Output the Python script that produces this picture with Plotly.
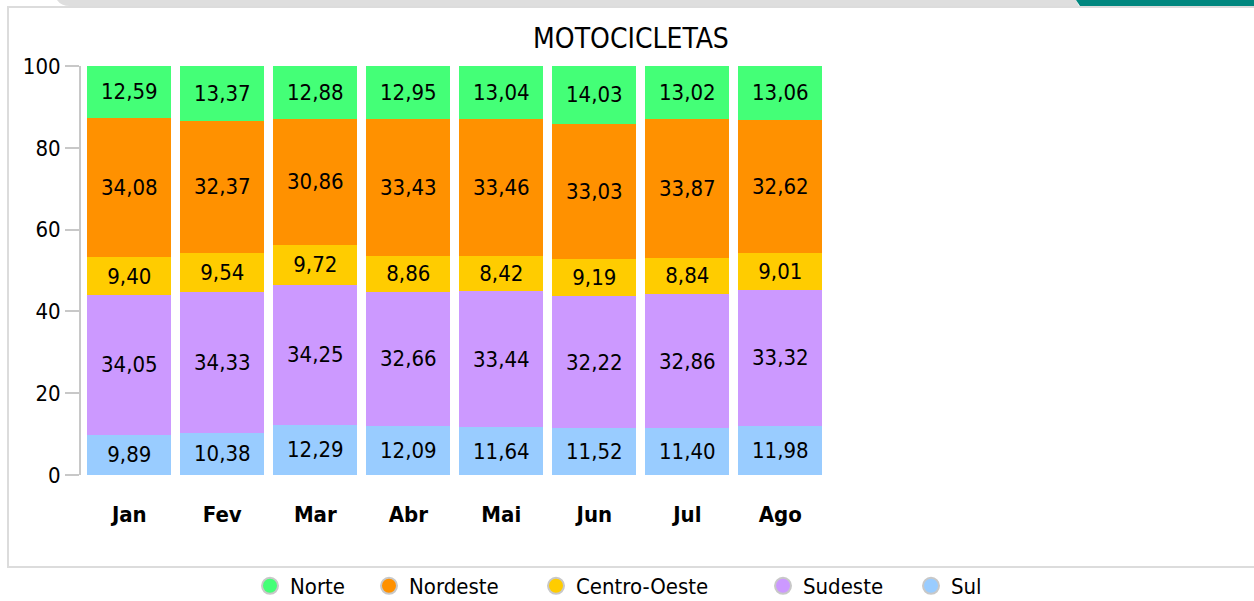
import plotly.graph_objects as go

# Monthly regional share (%) of motorcycle registrations
months = ["Jan", "Fev", "Mar", "Abr", "Mai", "Jun", "Jul", "Ago"]
norte = [12.59, 13.37, 12.88, 12.95, 13.04, 14.03, 13.02, 13.06]
nordeste = [34.08, 32.37, 30.86, 33.43, 33.46, 33.03, 33.87, 32.62]
centro_oeste = [9.40, 9.54, 9.72, 8.86, 8.42, 9.19, 8.84, 9.01]
sudeste = [34.05, 34.33, 34.25, 32.66, 33.44, 32.22, 32.86, 33.32]
sul = [9.89, 10.38, 12.29, 12.09, 11.64, 11.52, 11.40, 11.98]
y_ticks = [0, 20, 40, 60, 80, 100]

FONT = "DejaVu Sans Condensed, Liberation Sans, sans-serif"
W, H = 1254, 601
ML, MR, MT, MB = 80, 430, 62, 126
PW, PH = W - ML - MR, H - MT - MB


def px(x):
    return (x - ML) / PW


def py(y):
    return (H - MB - y) / PH


# bottom-to-top stacking order; legend order is top-to-bottom
series = [
    ("Sul", sul, "#99CCFF"),
    ("Sudeste", sudeste, "#CC99FF"),
    ("Centro-Oeste", centro_oeste, "#FFCC00"),
    ("Nordeste", nordeste, "#FF9100"),
    ("Norte", norte, "#44FF77"),
]

fig = go.Figure()
for name, vals, color in series:
    fig.add_trace(go.Bar(
        x=months, y=vals, name=name, marker=dict(color=color, line=dict(width=0)),
        text=vals, texttemplate="%{y:.2f}", textposition="inside",
        insidetextanchor="middle", textangle=0, constraintext="none",
        textfont=dict(family=FONT, size=22, color="black"),
        showlegend=False,
    ))

# circular legend swatches, each in its own legend box
legend_centres = {"Norte": 270, "Nordeste": 389, "Centro-Oeste": 556, "Sudeste": 783, "Sul": 931}
legend_order = ["Norte", "Nordeste", "Centro-Oeste", "Sudeste", "Sul"]
colors = {n: c for n, _, c in series}
legend_layout = {}
for i, name in enumerate(legend_order):
    key = "legend" if i == 0 else f"legend{i + 1}"
    fig.add_trace(go.Scatter(
        x=[None], y=[None], mode="markers", name=name, legend=key,
        marker=dict(symbol="circle", size=16, color=colors[name],
                    line=dict(color="#C8C8C8", width=2)),
        showlegend=True, hoverinfo="skip",
    ))
    legend_layout[key] = dict(
        xref="container", yref="container",
        x=(legend_centres[name] - 20) / W, xanchor="left",
        y=1 - 586 / H, yanchor="middle", orientation="h",
        bgcolor="rgba(0,0,0,0)", borderwidth=0,
        font=dict(family=FONT, size=22, color="black"),
    )

shapes = [
    # outer frame
    dict(type="rect", xref="paper", yref="paper",
         x0=px(8), x1=px(1258), y0=py(567), y1=py(7),
         line=dict(color="#DCDCDC", width=2), fillcolor="rgba(0,0,0,0)", layer="below"),
    # header strip
    dict(type="path", xref="paper", yref="paper",
         path=(f"M {px(57)},{py(0)} L {px(1076)},{py(0)} L {px(1079)},{py(6)} "
               f"L {px(70)},{py(6)} Q {px(61)},{py(6)} {px(57)},{py(0)} Z"),
         fillcolor="#DEDEDE", line=dict(width=0)),
    dict(type="path", xref="paper", yref="paper",
         path=(f"M {px(1076)},{py(0)} L {px(1254)},{py(0)} L {px(1254)},{py(6)} "
               f"L {px(1080)},{py(6)} Z"),
         fillcolor="#00877F", line=dict(width=0)),
    # value axis line from 0 to 100
    dict(type="line", xref="paper", yref="y", x0=0, x1=0, y0=0, y1=100,
         line=dict(color="#C8C8C8", width=2)),
]

fig.update_layout(
    width=W, height=H, autosize=False,
    margin=dict(l=ML, r=MR, t=MT, b=MB, autoexpand=False),
    paper_bgcolor="white", plot_bgcolor="white",
    barmode="stack", bargap=0.097,
    separators=",.",
    title=dict(text="MOTOCICLETAS", x=631 / W, xanchor="center",
               y=1 - 38 / H, yanchor="middle",
               font=dict(family=FONT, size=28, color="black")),
    xaxis=dict(
        type="category", range=[-0.53, 7.47], showgrid=False, showline=False,
        zeroline=False, ticks="outside", ticklen=20, tickcolor="rgba(0,0,0,0)",
        tickfont=dict(family=FONT, size=22, color="black", weight="bold"),
    ),
    yaxis=dict(
        range=[0, 101], tickvals=y_ticks, showgrid=False, showline=False,
        zeroline=False, ticks="outside", ticklen=14, tickwidth=2,
        tickcolor="#C8C8C8",
        tickfont=dict(family=FONT, size=22, color="black"),
    ),
    shapes=shapes,
    **legend_layout,
)

fig.write_html("out.html")
